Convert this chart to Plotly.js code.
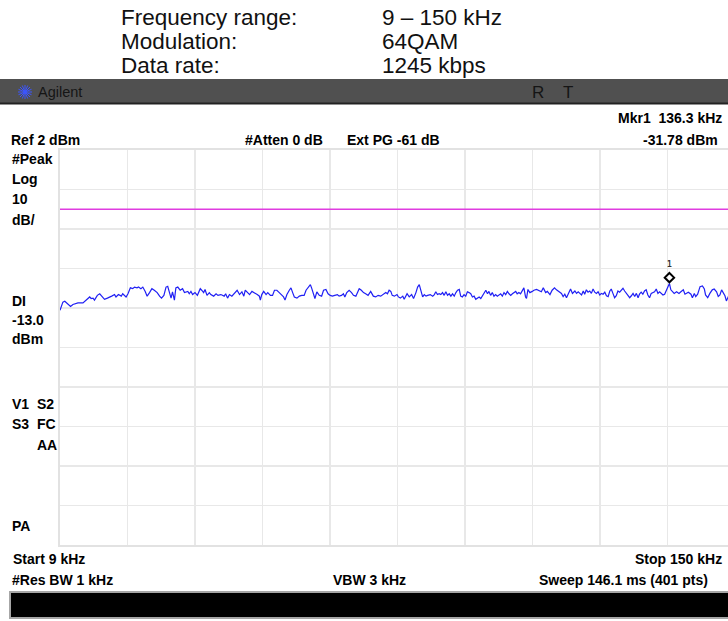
<!DOCTYPE html>
<html><head><meta charset="utf-8">
<script src="https://cdn.plot.ly/plotly-3.0.1.min.js"></script>
<style>html,body{margin:0;padding:0;overflow:hidden;background:#fff}#chart{width:735px;height:621px}</style>
</head><body><div id="chart"></div>
<script>
// ---- data ----
const freqKHz = [
9.0,9.6,10.0,10.5,11.2,11.7,12.75,13.8,14.15,14.8,15.2,15.5,15.9,16.2,16.8,17.3,17.7,18.3,18.9,19.3,
19.8,20.4,20.7,21.2,21.8,22.1,22.5,22.8,23.2,23.7,24.2,24.55,25.1,25.4,25.9,26.3,26.8,27.2,27.7,28.2,
28.7,29.3,29.8,30.2,30.7,31.15,31.5,31.8,32.2,32.5,32.9,33.2,33.6,34.1,34.6,35.0,35.7,36.0,36.35,36.7,
37.2,37.7,38.3,38.6,39.0,39.3,39.7,40.2,40.5,41.1,41.6,42.0,42.6,43.3,43.6,44.0,
44.4,44.9,45.45,46.0,46.5,47.0,47.4,47.7,48.2,48.6,49.1,49.6,50.2,50.65,50.85,51.15,51.55,52.05,52.4,52.95,
53.4,53.8,54.3,54.8,55.3,55.7,56.0,56.4,56.9,57.25,57.6,57.95,58.5,59.0,59.5,60.0,60.4,60.85,61.3,61.55,
61.95,62.25,62.65,63.15,63.65,64.05,64.55,65.0,65.45,65.9,66.4,66.95,67.3,67.8,68.2,68.5,68.9,69.4,69.9,70.3,
70.8,71.15,71.5,71.95,72.4,72.85,73.35,73.9,74.45,74.95,75.45,76.0,76.55,77.05,77.4,77.75,78.1,78.4,
78.85,79.4,79.7,80.1,80.6,80.9,81.5,81.95,82.45,82.85,83.35,83.7,84.05,84.4,84.75,85.1,85.45,85.8,86.35,86.85,
87.2,87.5,87.85,88.2,88.55,88.9,89.25,89.6,89.95,90.3,90.65,91.0,91.35,91.7,92.05,92.4,92.7,93.05,93.4,93.75,
94.1,94.45,94.8,95.15,95.5,95.85,96.2,96.55,96.9,97.25,97.6,97.95,98.3,98.6,98.95,99.3,99.65,100.0,100.35,100.7,
101.05,101.4,101.75,102.1,102.45,102.8,103.15,103.5,103.85,104.2,104.5,104.85,105.2,105.55,105.9,106.25,106.45,106.75,107.15,107.65,
108.0,108.55,109.05,109.55,109.95,110.45,110.8,111.35,111.8,112.3,112.7,
113.3,113.75,114.1,114.45,114.8,115.15,115.65,116.05,116.55,116.9,117.25,117.6,117.95,118.3,118.6,118.95,119.3,119.65,120.0,120.35,
120.7,121.05,121.4,121.75,122.1,122.45,122.8,123.15,123.5,123.85,124.15,124.5,124.85,125.2,125.55,125.9,126.25,126.6,126.95,127.3,
127.65,128.0,128.35,128.7,129.05,129.4,129.75,130.05,130.4,130.75,131.1,131.45,131.8,132.15,132.5,132.85,133.2,133.55,133.9,134.25,
134.6,134.95,135.3,135.8,136.3,136.6,136.9,137.3,137.8,138.3,138.7,139.2,139.55,139.9,140.25,140.8,141.1,141.5,141.8,142.2,
142.7,143.2,143.6,143.85,144.3,144.75,145.25,145.65,146.15,146.5,146.85,147.2,147.55,147.9,148.2,148.6,149.3,150.0
];
const levelDBm = [
-38.6,-36.5,-36.3,-36.9,-37.6,-37.1,-36.7,-36.7,-36.3,-35.8,-35.2,-35.6,-35.5,-36.0,-34.8,-34.4,-35.0,-35.8,-35.5,-35.2,
-35.0,-34.6,-35.2,-34.6,-35.0,-34.4,-34.8,-35.2,-34.4,-32.9,-33.1,-32.7,-32.9,-32.7,-33.1,-32.7,-33.8,-35.0,-34.1,-33.1,
-33.5,-34.1,-35.0,-35.5,-34.8,-32.7,-32.5,-33.9,-35.5,-33.9,-36.0,-32.9,-32.7,-33.5,-33.1,-34.1,-33.8,-34.4,-33.8,-34.6,
-34.1,-34.8,-33.1,-33.5,-34.1,-33.3,-34.8,-34.1,-34.6,-35.0,-34.4,-34.8,-34.6,-35.0,-34.4,-35.5,
-34.6,-35.0,-34.1,-33.5,-34.6,-33.9,-35.0,-33.5,-34.1,-34.6,-33.8,-34.1,-34.6,-35.0,-36.0,-34.6,-33.8,-34.6,-34.1,-34.8,
-34.8,-33.5,-33.5,-34.1,-34.6,-35.2,-36.0,-34.6,-33.5,-32.9,-34.1,-35.2,-35.5,-35.0,-34.8,-34.8,-33.5,-32.7,-32.1,-32.9,
-34.4,-35.6,-33.9,-34.8,-35.0,-33.5,-33.3,-34.4,-34.8,-35.0,-34.8,-34.6,-35.0,-34.8,-34.4,-35.2,-34.1,-33.5,-34.1,-34.8,
-35.0,-34.1,-33.1,-33.5,-34.1,-34.4,-34.8,-33.8,-35.0,-35.2,-34.8,-35.0,-34.6,-34.1,-34.4,-33.5,-33.8,-34.8,
-35.0,-34.6,-35.2,-35.5,-35.0,-35.8,-34.4,-35.2,-34.6,-35.6,-34.1,-32.7,-32.1,-33.5,-35.2,-34.6,-35.0,-34.8,-34.6,-35.0,
-34.6,-33.9,-34.6,-34.4,-34.6,-34.1,-34.8,-33.9,-34.8,-34.4,-35.0,-34.4,-35.0,-34.1,-33.5,-33.3,-35.0,-35.2,-34.6,-35.0,
-33.9,-34.1,-34.4,-35.2,-35.0,-35.8,-35.5,-35.2,-35.6,-34.8,-34.1,-33.5,-34.4,-33.8,-34.8,-34.1,-35.0,-34.6,-35.0,-34.8,
-34.4,-35.0,-34.1,-34.6,-33.8,-34.4,-34.8,-34.4,-34.1,-33.8,-34.4,-34.1,-34.4,-33.5,-32.9,-35.2,-35.6,-33.3,-34.1,-33.8,
-33.5,-33.3,-33.5,-33.9,-32.9,-34.1,-33.8,-34.6,-33.5,-32.9,-33.4,
-33.9,-34.3,-35.1,-34.5,-35.4,-34.3,-33.2,-34.3,-33.7,-34.3,-33.9,-34.3,-34.7,-33.7,-34.5,-33.4,-34.0,-33.7,-34.3,-33.2,
-34.0,-34.3,-33.9,-34.7,-34.3,-34.5,-34.0,-34.9,-35.1,-33.7,-33.2,-34.3,-35.4,-34.9,-33.7,-34.0,-33.4,-33.0,-33.7,-34.3,
-34.7,-35.4,-34.9,-34.3,-35.1,-34.3,-35.4,-34.5,-34.0,-34.5,-33.7,-33.4,-34.7,-35.4,-34.3,-34.0,-33.9,-33.2,-34.3,-33.9,
-34.3,-34.7,-34.5,-33.0,-31.78,-33.4,-33.9,-34.3,-33.9,-34.3,-33.9,-33.4,-34.5,-34.3,-34.0,-34.5,-35.4,-34.3,-35.1,-34.5,
-32.6,-32.4,-33.2,-34.7,-35.4,-34.3,-33.4,-33.2,-33.9,-35.1,-34.7,-33.4,-34.0,-34.9,-36.2,-35.1,-34.5,-34.8
];
const startKHz = 9, stopKHz = 150;
const refLevelDBm = 2, dbPerDiv = 10, numDivs = 10;
const displayLineDBm = -13;
const markerFreqKHz = 136.3, markerLevelDBm = -31.78;
const headerLabels = ["Frequency range:", "Modulation:", "Data rate:"];
const headerValues = ["9 – 150 kHz", "64QAM", "1245 kbps"];
const leftLabels = ["#Peak", "Log", "10", "dB/", "DI", "-13.0", "dBm", "V1  S2", "S3  FC", "AA", "PA"];

// ---- pixel helpers for paper-positioned decorations ----
const L = 60, T = 150, W = 675, H = 395;
const px = x => (x - L) / W;
const py = y => (T + H - y) / H;
const FONT = "Liberation Sans, Arial, sans-serif";
function txt(x, y, text, o = {}) {
  return {xref: 'paper', yref: 'paper', x: px(x), y: py(y), text: text, showarrow: false,
    xanchor: o.anchor || 'left', yanchor: 'middle', borderpad: 0,
    font: {family: FONT, size: o.size || 14, color: o.color || '#000'}};
}
const B = s => '<b>' + s.replace(/ /g, '&nbsp;') + '</b>';

const annotations = [];
const headerY = [17, 41.5, 66];
headerLabels.forEach((s, i) => annotations.push(txt(120, headerY[i], s, {size: 22.5, color: '#111'})));
headerValues.forEach((s, i) => annotations.push(txt(381, headerY[i], s, {size: 22.5, color: '#111'})));
annotations.push(txt(37, 92, 'Agilent', {size: 14.5, color: '#151515'}));
annotations.push(txt(531, 93, 'R', {size: 17, color: '#151515'}));
annotations.push(txt(562, 93, 'T', {size: 17, color: '#151515'}));
annotations.push(txt(723, 118, B('Mkr1  ' + markerFreqKHz + ' kHz'), {anchor: 'right'}));
annotations.push(txt(719, 140, B(markerLevelDBm.toFixed(2) + ' dBm'), {anchor: 'right'}));
annotations.push(txt(10, 140, B('Ref ' + refLevelDBm + ' dBm')));
annotations.push(txt(244, 140, B('#Atten 0 dB')));
annotations.push(txt(346, 140, B('Ext PG -61 dB')));
const leftY = [159, 179, 199, 220, 301, 320, 339, 404, 424, 445, 526];
leftLabels.forEach((s, i) => annotations.push(txt(s === 'AA' ? 36 : 11, leftY[i], B(s))));
annotations.push(txt(12, 559, B('Start ' + startKHz + ' kHz')));
annotations.push(txt(723, 559, B('Stop ' + stopKHz + ' kHz'), {anchor: 'right'}));
annotations.push(txt(11, 580, B('#Res BW 1 kHz')));
annotations.push(txt(332, 580, B('VBW 3 kHz')));
annotations.push(txt(709, 580, B('Sweep 146.1 ms (401 pts)'), {anchor: 'right'}));
annotations.push({xref: 'x', yref: 'y', x: markerFreqKHz, y: markerLevelDBm, yshift: 19, text: '<b>1</b>',
  showarrow: false, font: {family: 'DejaVu Sans Mono, monospace', size: 8, color: '#333'}});

const shapes = [
  {type: 'rect', xref: 'paper', yref: 'paper', x0: px(0), x1: px(745), y0: py(79), y1: py(104),
   fillcolor: '#505050', line: {width: 0}, layer: 'below'},
  {type: 'line', xref: 'paper', yref: 'paper', x0: px(0), x1: px(745), y0: py(103.5), y1: py(103.5),
   line: {color: '#222222', width: 2}},
  {type: 'rect', xref: 'paper', yref: 'paper', x0: px(10), x1: px(750), y0: py(592), y1: py(618),
   fillcolor: '#000000', line: {color: '#a6a6a6', width: 2}},
  {type: 'line', xref: 'paper', yref: 'y', x0: 0, x1: 1, y0: displayLineDBm, y1: displayLineDBm,
   line: {color: '#e03ce0', width: 1.5}},
  {type: 'path', xref: 'x', yref: 'y', xsizemode: 'pixel', ysizemode: 'pixel',
   xanchor: markerFreqKHz, yanchor: markerLevelDBm,
   path: 'M-4.7,5.8 L0,10.5 L4.7,5.8 L0,1.1 Z', line: {color: '#000', width: 2}, fillcolor: 'rgba(0,0,0,0)'}
];
// Agilent spark logo
const cx = 25, cy = 92;
[[7, 0], [0, 7], [5, 5], [5, -5], [6.5, 2.7], [6.5, -2.7], [2.7, 6.5], [2.7, -6.5]].forEach(([dx, dy]) => {
  shapes.push({type: 'line', xref: 'paper', yref: 'paper', x0: px(cx - dx), x1: px(cx + dx),
    y0: py(cy - dy), y1: py(cy + dy), line: {color: '#3b55ff', width: 1}});
});

const gridStyle = {showgrid: true, gridcolor: '#e8e8e8', gridwidth: 1.5, zeroline: false,
  showline: true, linecolor: '#e2e2e2', linewidth: 2, mirror: true, showticklabels: false,
  ticks: '', fixedrange: true};

const traces = [{
  x: freqKHz, y: levelDBm, type: 'scatter', mode: 'lines',
  line: {color: '#2020f4', width: 1.2}, hoverinfo: 'skip'
}];

const layout = {
  width: 735, height: 621,
  margin: {l: L, r: 735 - L - W, t: T, b: 621 - T - H, pad: 0},
  paper_bgcolor: '#ffffff', plot_bgcolor: '#ffffff', showlegend: false,
  xaxis: Object.assign({range: [startKHz, stopKHz], tick0: startKHz, dtick: (stopKHz - startKHz) / numDivs}, gridStyle),
  yaxis: Object.assign({range: [refLevelDBm - dbPerDiv * numDivs, refLevelDBm], tick0: refLevelDBm, dtick: dbPerDiv}, gridStyle),
  annotations: annotations, shapes: shapes
};
Plotly.newPlot('chart', traces, layout, {displayModeBar: false, staticPlot: true});
</script></body></html>
